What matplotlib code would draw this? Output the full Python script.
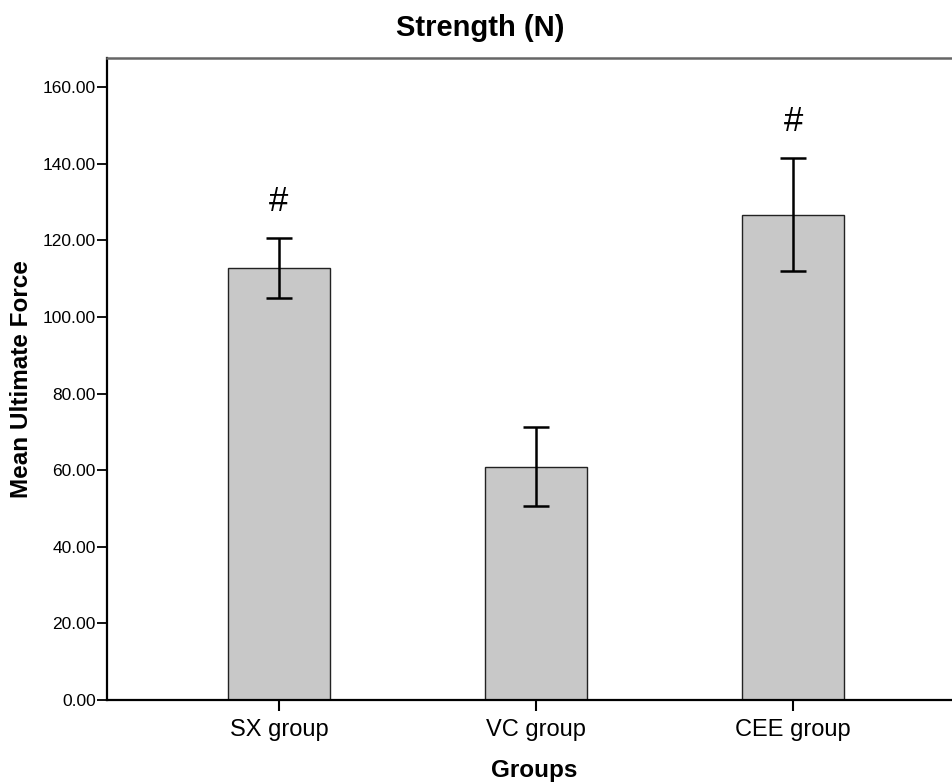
import matplotlib.pyplot as plt
from matplotlib.ticker import FormatStrFormatter

# данные
groups = ["SX group", "VC group", "CEE group"]
means = [112.8, 60.9, 126.7]
errors = [7.9, 10.3, 14.8]
marks = ["#", "", "#"]
yticks = [0, 20, 40, 60, 80, 100, 120, 140, 160]

plt.rcParams['font.family'] = ['Liberation Sans', 'DejaVu Sans']

fig = plt.figure(figsize=(9.52, 7.82), dpi=100)
ax = fig.add_axes([0.1124, 0.1049, 0.9013, 0.8209])

x = list(range(len(groups)))
ax.bar(x, means, width=0.40, color='#c8c8c8', edgecolor='#222222', linewidth=1.0, zorder=2)
ax.errorbar(x, means, yerr=errors, fmt='none', ecolor='black', elinewidth=1.8,
            capsize=9.7, capthick=1.8, zorder=3)

for xi, m, e, s in zip(x, means, errors, marks):
    if s:
        ax.text(xi, m + e + 9.5, s, ha='center', va='center', fontsize=25)

ax.set_xlim(-0.669, 2.669)
ax.set_ylim(0, 167.6)
ax.set_yticks(yticks)
ax.yaxis.set_major_formatter(FormatStrFormatter('%.2f'))
ax.set_xticks(x)
ax.set_xticklabels(groups, fontsize=17)
ax.tick_params(axis='y', labelsize=12.5, length=7, width=1.3, pad=1)
ax.tick_params(axis='x', length=8, width=1.5, pad=6)

for side in ['left', 'bottom']:
    ax.spines[side].set_linewidth(1.6)
ax.spines['top'].set_linewidth(1.8)
ax.spines['top'].set_color('#666666')
ax.spines['right'].set_visible(False)

fig.text(0.504, 0.954, "Strength (N)", ha='center', va='baseline', fontsize=21, fontweight='bold')
fig.text(0.023, 0.515, "Mean Ultimate Force", ha='center', va='center', rotation=90,
         fontsize=17.5, fontweight='bold')
fig.text(0.561, 0.0153, "Groups", ha='center', va='center', fontsize=17.5, fontweight='bold')

fig.savefig("out.png", dpi=100)
